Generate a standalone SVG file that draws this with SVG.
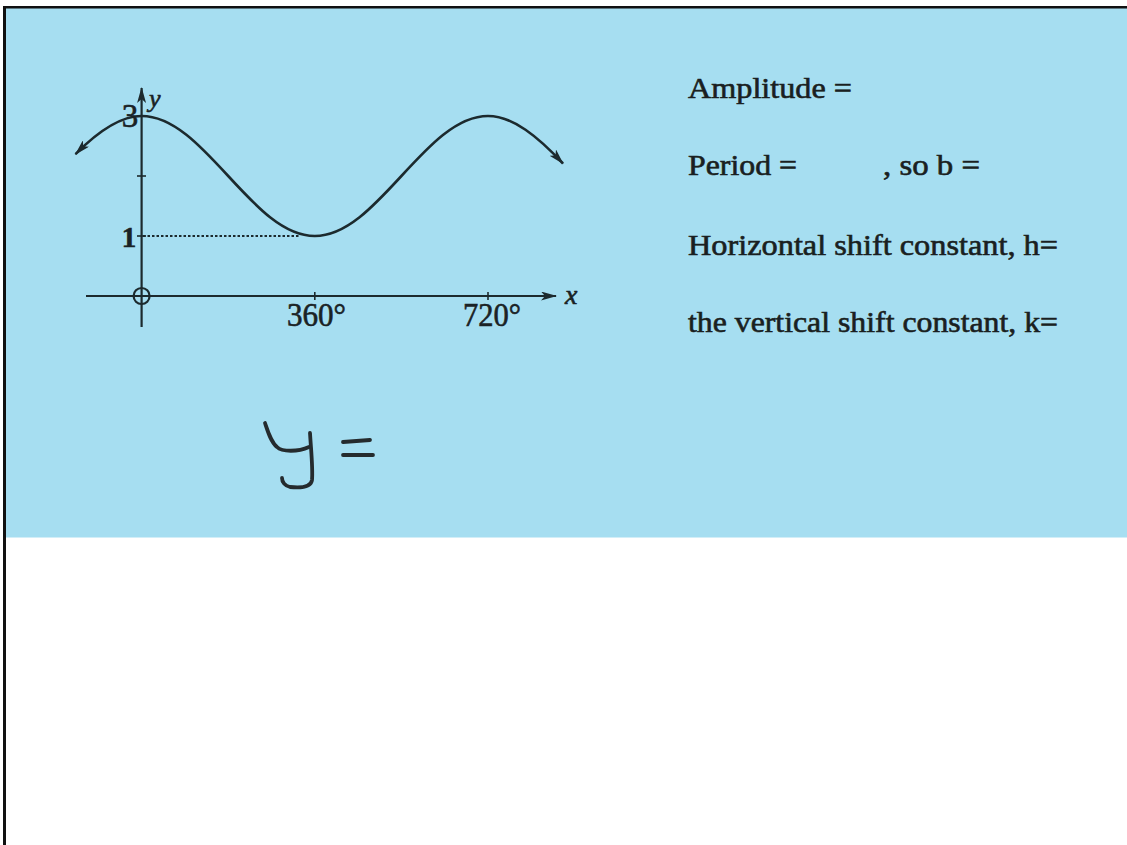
<svg xmlns="http://www.w3.org/2000/svg" width="1127" height="845" viewBox="0 0 1127 845">
  <defs>
    <style>
      .ink { stroke: #1c2a2e; fill: none; }
      .lbl { font-family: 'Liberation Serif', 'Times New Roman', Tinos, serif; fill: #1a2225; stroke: #1a2225; stroke-width: 0.6; }
      .txt { font-family: 'Liberation Serif', 'Times New Roman', Tinos, serif; font-size: 29px; fill: #1a1f21; stroke: #1a1f21; stroke-width: 0.6; }
      .hand { stroke: #252b2e; fill: none; stroke-width: 3.8; stroke-linecap: round; stroke-linejoin: round; }
    </style>
    <marker id="arr" viewBox="0 0 16 9" refX="15" refY="4.5" markerWidth="16" markerHeight="9" markerUnits="userSpaceOnUse" orient="auto-start-reverse">
      <path d="M0,0 L16,4.5 L0,9 L4,4.5 z" fill="#1c2a2e"/>
    </marker>
  </defs>

  <!-- page -->
  <rect x="0" y="0" width="1127" height="845" fill="#ffffff"/>
  <rect id="panel" x="6" y="8" width="1121" height="529.5" fill="#a6def1"/>
  <rect x="3" y="6" width="3" height="839" fill="#111"/>
  <rect x="3" y="6" width="1124" height="2.5" fill="#111"/>

  <!-- graph -->
  <g id="graph">
    <g id="axes" class="ink" stroke-width="2.2">
      <line x1="141.6" y1="327" x2="141.6" y2="88" marker-end="url(#arr)"/>
      <line x1="86" y1="296" x2="556" y2="296" marker-end="url(#arr)"/>
      <circle cx="141.6" cy="296" r="8"/>
      <line x1="137" y1="176" x2="146" y2="176" stroke-width="1.6"/>
      <line x1="137" y1="236" x2="146" y2="236" stroke-width="1.6"/>
      <line x1="314.8" y1="292" x2="314.8" y2="300" stroke-width="1.6"/>
      <line x1="488" y1="292" x2="488" y2="300" stroke-width="1.6"/>
    </g>
    <line id="dotted" x1="143" y1="236" x2="300" y2="236" stroke="#1c2a2e" stroke-width="2" stroke-dasharray="2.5,2"/>
    <path id="curve" class="ink" stroke-width="2.6" marker-start="url(#arr)" marker-end="url(#arr)"
      d="M75.5,154.2 C97.5,131.9 119.6,116 141.6,116 C204.5,116 251.9,236 314.8,236 C377.7,236 425.1,116 488,116 C513,116 538,136.9 563,163.5"/>
    <g id="graph-labels" class="lbl">
      <text x="130" y="127" font-size="33" text-anchor="middle">3</text>
      <text x="129" y="247" font-size="29" text-anchor="middle" font-weight="bold">1</text>
      <text x="149" y="107" font-size="26" font-style="italic">y</text>
      <text x="565" y="304" font-size="28" font-style="italic">x</text>
      <text x="287" y="326" font-size="33" textLength="59" lengthAdjust="spacingAndGlyphs">360°</text>
      <text x="463" y="326" font-size="33" textLength="58" lengthAdjust="spacingAndGlyphs">720°</text>
    </g>
  </g>

  <!-- questions -->
  <g id="questions" class="txt">
    <text id="q-amplitude" x="688" y="98" textLength="164" lengthAdjust="spacingAndGlyphs">Amplitude =</text>
    <text id="q-period" x="688" y="175" textLength="109" lengthAdjust="spacingAndGlyphs">Period =</text>
    <text id="q-b" x="883" y="175" textLength="97" lengthAdjust="spacingAndGlyphs">, so b =</text>
    <text id="q-h" x="688" y="255" textLength="370" lengthAdjust="spacingAndGlyphs">Horizontal shift constant, h=</text>
    <text id="q-k" x="688" y="332" textLength="370" lengthAdjust="spacingAndGlyphs">the vertical shift constant, k=</text>
  </g>

  <!-- handwritten y = -->
  <g id="handwriting" class="hand">
    <path d="M265,423 C268,432 271,442 277,447 C282,452 298,452 309,447"/>
    <path d="M310,433 C311,450 313,468 312,480 C311,488 300,488 290,487 C285,486 282,482 282,478"/>
    <path d="M343,442 L370,440"/>
    <path d="M343,455 L373,455"/>
  </g>
</svg>
